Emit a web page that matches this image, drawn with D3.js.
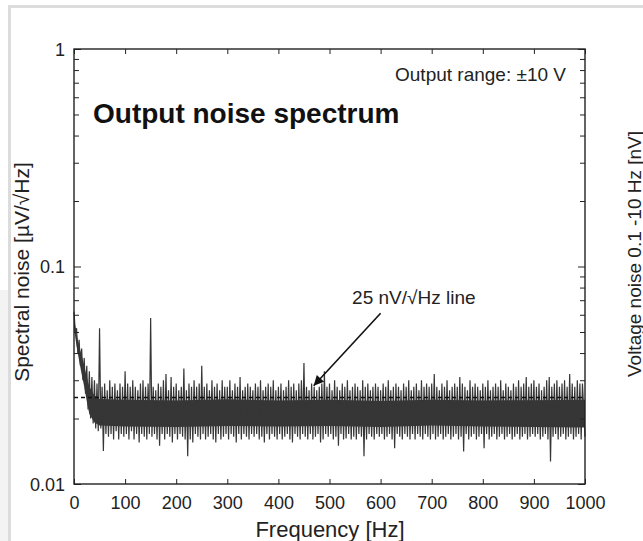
<!DOCTYPE html>
<html>
<head>
<meta charset="utf-8">
<script src="https://cdn.jsdelivr.net/npm/d3@7"></script>
<style>
  body { margin: 0; background: #fff; }
  svg { display: block; font-family: "Liberation Sans", Arial, Helvetica, sans-serif; }
</style>
</head>
<body>
<svg width="643" height="541"></svg>
<script>
// bin width, Hz
var binStep = 5;
// upper edge of the noise trace in each bin, nV/sqrt(Hz)
var noiseHigh = [
  62,52,46,42,38,35,33,31,30,29,
  52,28,29,27,30,28,29,27,29,28,
  33,29,28,30,28,27,29,30,28,29,
  58,28,27,29,28,30,32,27,31,28,
  29,27,28,34,27,29,28,30,28,29,
  35,28,29,27,30,28,29,27,30,28,
  28,30,27,29,28,31,27,28,29,28,
  27,29,28,30,27,28,29,28,30,27,
  28,29,27,28,30,28,29,27,29,30,
  36,28,27,29,28,27,28,29,33,28,
  29,27,30,28,27,29,28,30,27,28,
  29,28,27,30,28,29,27,28,29,28,
  27,29,28,30,27,28,29,28,27,29,
  28,30,27,28,29,27,30,28,29,28,
  29,32,28,27,29,28,30,27,28,29,
  28,31,29,28,27,30,28,29,28,27,
  29,28,30,27,28,29,28,30,27,29,
  28,27,29,28,30,28,29,31,28,29,
  30,28,29,27,28,30,31,28,29,30,
  28,29,30,28,32,29,28,30,29,29
];
// lower edge of the noise trace in each bin, nV/sqrt(Hz)
var noiseLow = [
  50,40,35,30,26,22,20,19,18,17.5,
  18,14.2,17,16.5,17,16,17.5,16,17,16.5,
  17,16,17.5,16,17,15.5,17,16.5,16,17,
  16.5,17,16,15,17,16,17,16.5,15.5,17,
  16,17,16.5,16,13.4,16,15.5,17,16.5,16,
  17,16,16.5,17,16,15.5,17,16,16.5,17,
  16,17,16.5,15.5,17,16,17,16.5,16,17,
  16.5,17,16,16.5,15.5,17,16,17,16.5,16,
  17,16,16.5,17,16,15.5,17,16.5,16,17,
  16.5,16,17,16,16.5,17,15.5,16,17,16.5,
  17,16,16.5,15,17,16,16.2,17,16,16.5,
  16,17,16.5,13.4,16,17,16.5,16,17,16.5,
  17,16,16.5,17,16,14.6,17,16.5,16,17,
  16.5,16,17,16,17,16.5,16,17,16.5,16,
  17,16,16.5,17,16,16.5,17,16,16.5,17,
  16,16.5,14.1,17,16,16.5,17,16,16.5,17,
  14.6,17,16,16.5,17,16,16.5,17,16,16.5,
  17,16,16.5,17,16,16.5,17,16,16.5,17,
  16.5,17,16,16.5,17,16,12.7,16.5,17,16,
  16.5,17,16,16.5,17,16,16.5,17,16,16.5
];
// solid core of the trace (where the samples overlap), nV/sqrt(Hz)
var coreFreq   = [0, 5, 10, 15, 20, 25, 30, 40, 50, 100, 200, 300, 400, 500, 600, 700, 800, 900, 1000];
var coreTop    = [58, 49, 43, 39, 35, 31, 28, 25.5, 24.6, 24.4, 24.2, 24.5, 24.2, 24.4, 24.1, 24.4, 24.2, 24.3, 24.4];
var coreBottom = [52, 43, 37, 32, 28, 24, 21, 19.2, 18.6, 18.4, 18.3, 18.5, 18.4, 18.5, 18.3, 18.6, 18.4, 18.3, 18.2];
var refLevel = 25; // nV/sqrt(Hz) dashed line
var xTicks = [0,100,200,300,400,500,600,700,800,900,1000];
var yMajor = [0.01, 0.1, 1];
var yLabels = ["0.01", "0.1", "1"];

var svg = d3.select("svg");
var mLeft = 74, mRight = 585, mTop = 49, mBottom = 484;

var x = d3.scaleLinear().domain([0, 1000]).range([mLeft, mRight]);
var y = d3.scaleLog().domain([0.01, 1]).range([mBottom, mTop]);

// page frame (grey edge of the scanned sheet)
svg.append("rect").attr("x", 8).attr("y", 5).attr("width", 635).attr("height", 3).attr("fill", "#dcdcdc");
svg.append("rect").attr("x", 8).attr("y", 5).attr("width", 3).attr("height", 536).attr("fill", "#dcdcdc");
svg.append("rect").attr("x", 0).attr("y", 290).attr("width", 8).attr("height", 251).attr("fill", "#f3f3f3");

var traceColor = "#363636";

// dense core
var core = coreFreq.map(function(f, i){ return [f, coreBottom[i] / 1000, coreTop[i] / 1000]; });
svg.append("path")
    .datum(core)
    .attr("d", d3.area()
        .x(function(d){ return x(d[0]); })
        .y0(function(d){ return y(d[1]); })
        .y1(function(d){ return y(d[2]); }))
    .attr("fill", traceColor);

// trace points: high then low in each bin
var pts = [];
noiseHigh.forEach(function(h, i){
    pts.push([i * binStep, h / 1000]);
    pts.push([i * binStep + binStep / 2, noiseLow[i] / 1000]);
});
pts[pts.length - 1][0] = 1000;

var line = d3.line()
    .x(function(d){ return x(d[0]); })
    .y(function(d){ return y(d[1]); });

svg.append("path")
    .datum(pts)
    .attr("d", line)
    .attr("fill", "none")
    .attr("stroke", traceColor)
    .attr("stroke-width", 1.2);

// 25 nV line
svg.append("line")
    .attr("x1", x(0)).attr("x2", x(1000))
    .attr("y1", y(refLevel / 1000)).attr("y2", y(refLevel / 1000))
    .attr("stroke", "#111")
    .attr("stroke-width", 1.4)
    .attr("stroke-dasharray", "4,3");

// log ticks 1..9 per decade
var yAll = [];
[0.01, 0.1].forEach(function(dec){
    for (var k = 1; k <= 10; k++) yAll.push(+(dec * k).toPrecision(6));
});
yAll = yAll.filter(function(v, i, a){ return a.indexOf(v) === i; });

function fmtY(d){
    var idx = yMajor.findIndex(function(m){ return Math.abs(m - d) < 1e-9; });
    return idx >= 0 ? yLabels[idx] : "";
}

var gx = svg.append("g").attr("transform", "translate(0," + mBottom + ")")
    .call(d3.axisBottom(x).tickValues(xTicks).tickSizeInner(-5).tickSizeOuter(0).tickPadding(12).tickFormat(d3.format("d")));
var gxt = svg.append("g").attr("transform", "translate(0," + mTop + ")")
    .call(d3.axisTop(x).tickValues(xTicks).tickSizeInner(-5).tickSizeOuter(0).tickFormat(""));
var gy = svg.append("g").attr("transform", "translate(" + mLeft + ",0)")
    .call(d3.axisLeft(y).tickValues(yAll).tickSizeInner(-5).tickSizeOuter(0).tickPadding(9).tickFormat(fmtY));
var gyr = svg.append("g").attr("transform", "translate(" + mRight + ",0)")
    .call(d3.axisRight(y).tickValues(yAll).tickSizeInner(-5).tickSizeOuter(0).tickFormat(""));

[gx, gxt, gy, gyr].forEach(function(g){
    g.select(".domain").remove();
    g.selectAll(".tick line").attr("stroke", "#222").attr("stroke-width", 1);
    g.selectAll("text").attr("fill", "#222").style("font-size", "18px").style("font-family", "inherit");
});
gy.selectAll(".tick line").attr("x2", function(d){ return fmtY(d) ? 7 : 5; });
gyr.selectAll(".tick line").attr("x2", function(d){ return fmtY(d) ? -7 : -5; });
gy.selectAll(".tick text").attr("dy", "0.35em");

// plot frame
svg.append("rect")
    .attr("x", mLeft).attr("y", mTop)
    .attr("width", mRight - mLeft).attr("height", mBottom - mTop)
    .attr("fill", "none").attr("stroke", "#222").attr("stroke-width", 1.4);

// texts
svg.append("text").attr("x", 93).attr("y", 123)
    .attr("font-size", 28).attr("font-weight", "bold").attr("fill", "#111")
    .text("Output noise spectrum");
svg.append("text").attr("x", 566).attr("y", 81).attr("text-anchor", "end")
    .attr("font-size", 19).attr("fill", "#222")
    .text("Output range: ±10 V");
svg.append("text").attr("x", 330).attr("y", 537).attr("text-anchor", "middle")
    .attr("font-size", 22).attr("fill", "#222")
    .text("Frequency [Hz]");
svg.append("text").attr("transform", "translate(29,272) rotate(-90)").attr("text-anchor", "middle")
    .attr("font-size", 21).attr("fill", "#222")
    .text("Spectral noise [µV/√Hz]");
svg.append("text").attr("transform", "translate(641,254) rotate(-90)").attr("text-anchor", "middle")
    .attr("font-size", 19).attr("fill", "#222")
    .text("Voltage noise 0.1 -10 Hz [nV]");

// annotation with arrow
var ann = { text: "25 nV/√Hz line", tx: 665, ty: 0.067, x1: 600, y1: 0.061, x2: 469, y2: 0.0283 };
svg.append("text").attr("x", x(ann.tx)).attr("y", y(ann.ty)).attr("text-anchor", "middle")
    .attr("font-size", 19).attr("fill", "#222").text(ann.text);

svg.append("defs").append("marker")
    .attr("id", "arr").attr("viewBox", "0 0 10 10").attr("refX", 10).attr("refY", 5)
    .attr("markerWidth", 14).attr("markerHeight", 10).attr("markerUnits", "userSpaceOnUse")
    .attr("orient", "auto")
    .append("path").attr("d", "M0,0L10,5L0,10z").attr("fill", "#111");

svg.append("line")
    .attr("x1", x(ann.x1)).attr("y1", y(ann.y1))
    .attr("x2", x(ann.x2)).attr("y2", y(ann.y2))
    .attr("stroke", "#111").attr("stroke-width", 1.6)
    .attr("marker-end", "url(#arr)");
</script>
</body>
</html>
